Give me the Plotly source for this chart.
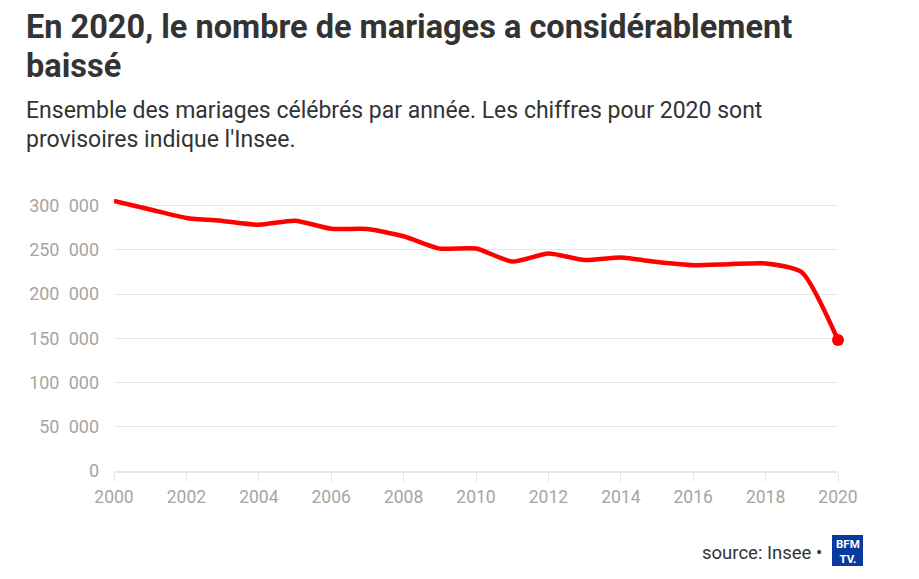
import plotly.graph_objects as go

years = list(range(2000, 2021))
mariages = [305234, 295720, 286169, 282756, 278439, 283036, 273914, 273669,
            265404, 251478, 251654, 236826, 245930, 238592, 241292, 236316,
            232725, 233915, 234735, 224740, 148000]
y_ticks = [0, 50000, 100000, 150000, 200000, 250000, 300000]
y_ticktext = [f"{v:,}".replace(",", "\u2002") for v in y_ticks]
x_ticks = list(range(2000, 2021, 2))

title_lines = ["En 2020, le nombre de mariages a considérablement", "baissé"]
subtitle_lines = ["Ensemble des mariages célébrés par année. Les chiffres pour 2020 sont",
                  "provisoires indique l'Insee."]
source = "source: Insee •"
logo = "<b>BFM<br>TV.</b>"

FONT = "Roboto"
OFF = 8  # page body margin
SW, SH = 919, 579
W, H = SW - 2 * OFF, SH - 2 * OFF
# plot area in screen pixels
PL, PR, PT, PB = 114, 838, 188, 471
L, R, T, B = PL - OFF, W - (PR - OFF), PT - OFF, H - (PB - OFF)
pw, ph = PR - PL, PB - PT

def px(x):
    return (x - PL) / pw

def py(y):
    return (PB - y) / ph

fig = go.Figure()
fig.add_trace(go.Scatter(
    x=years, y=mariages, mode="lines",
    line=dict(color="#ff0000", width=4.5, shape="spline", smoothing=0.6),
    hoverinfo="x+y", showlegend=False))
fig.add_trace(go.Scatter(
    x=years[-1:], y=mariages[-1:], mode="markers", cliponaxis=False,
    marker=dict(color="#ff0000", size=12), showlegend=False))

ann = []
for i, t in enumerate(title_lines):
    ann.append(dict(text=f"<b>{t}</b>", x=px(24), y=py([27, 66][i]), xref="paper", yref="paper",
                    xanchor="left", yanchor="middle", showarrow=False,
                    font=dict(family=FONT, size=32.5, color="#333333")))
for i, t in enumerate(subtitle_lines):
    ann.append(dict(text=t, x=px(24), y=py([110, 139][i]), xref="paper", yref="paper",
                    xanchor="left", yanchor="middle", showarrow=False,
                    font=dict(family=FONT, size=23, color="#333333")))
ann.append(dict(text=source, x=px(824), y=py(553), xref="paper", yref="paper",
                xanchor="right", yanchor="middle", showarrow=False,
                font=dict(family=FONT, size=18.5, color="#333333")))
ann.append(dict(text=logo, x=px(847.5), y=py(551), xref="paper", yref="paper",
                xanchor="center", yanchor="middle", showarrow=False, borderpad=0,
                font=dict(family=FONT, size=11.5, color="#ffffff")))

fig.update_layout(
    width=W, height=H,
    margin=dict(l=L, r=R, t=T, b=B),
    paper_bgcolor="white", plot_bgcolor="white",
    font=dict(family=FONT, color="#a8a4a0"),
    annotations=ann,
    shapes=[dict(type="rect", xref="paper", yref="paper",
                 x0=px(832), x1=px(863), y0=py(535), y1=py(566),
                 fillcolor="#0a3a9e", line=dict(width=0), layer="above")],
    xaxis=dict(range=[2000, 2020], tickvals=x_ticks, showgrid=False,
               showline=True, linecolor="#e6e6e6", linewidth=2,
               ticks="outside", ticklen=9, tickcolor="#e6e6e6", tickwidth=1,
               tickfont=dict(family=FONT, size=17.5, color="#a8a4a0"),
               zeroline=False, fixedrange=True),
    yaxis=dict(range=[0, 320000], tickvals=y_ticks, ticktext=y_ticktext,
               showgrid=True, gridcolor="#e6e6e6", gridwidth=1,
               zeroline=False, showline=False, ticks="",
               ticklabelstandoff=14,
               tickfont=dict(family=FONT, size=18, color="#a8a4a0"),
               fixedrange=True),
)

fig.write_html("out.html")
